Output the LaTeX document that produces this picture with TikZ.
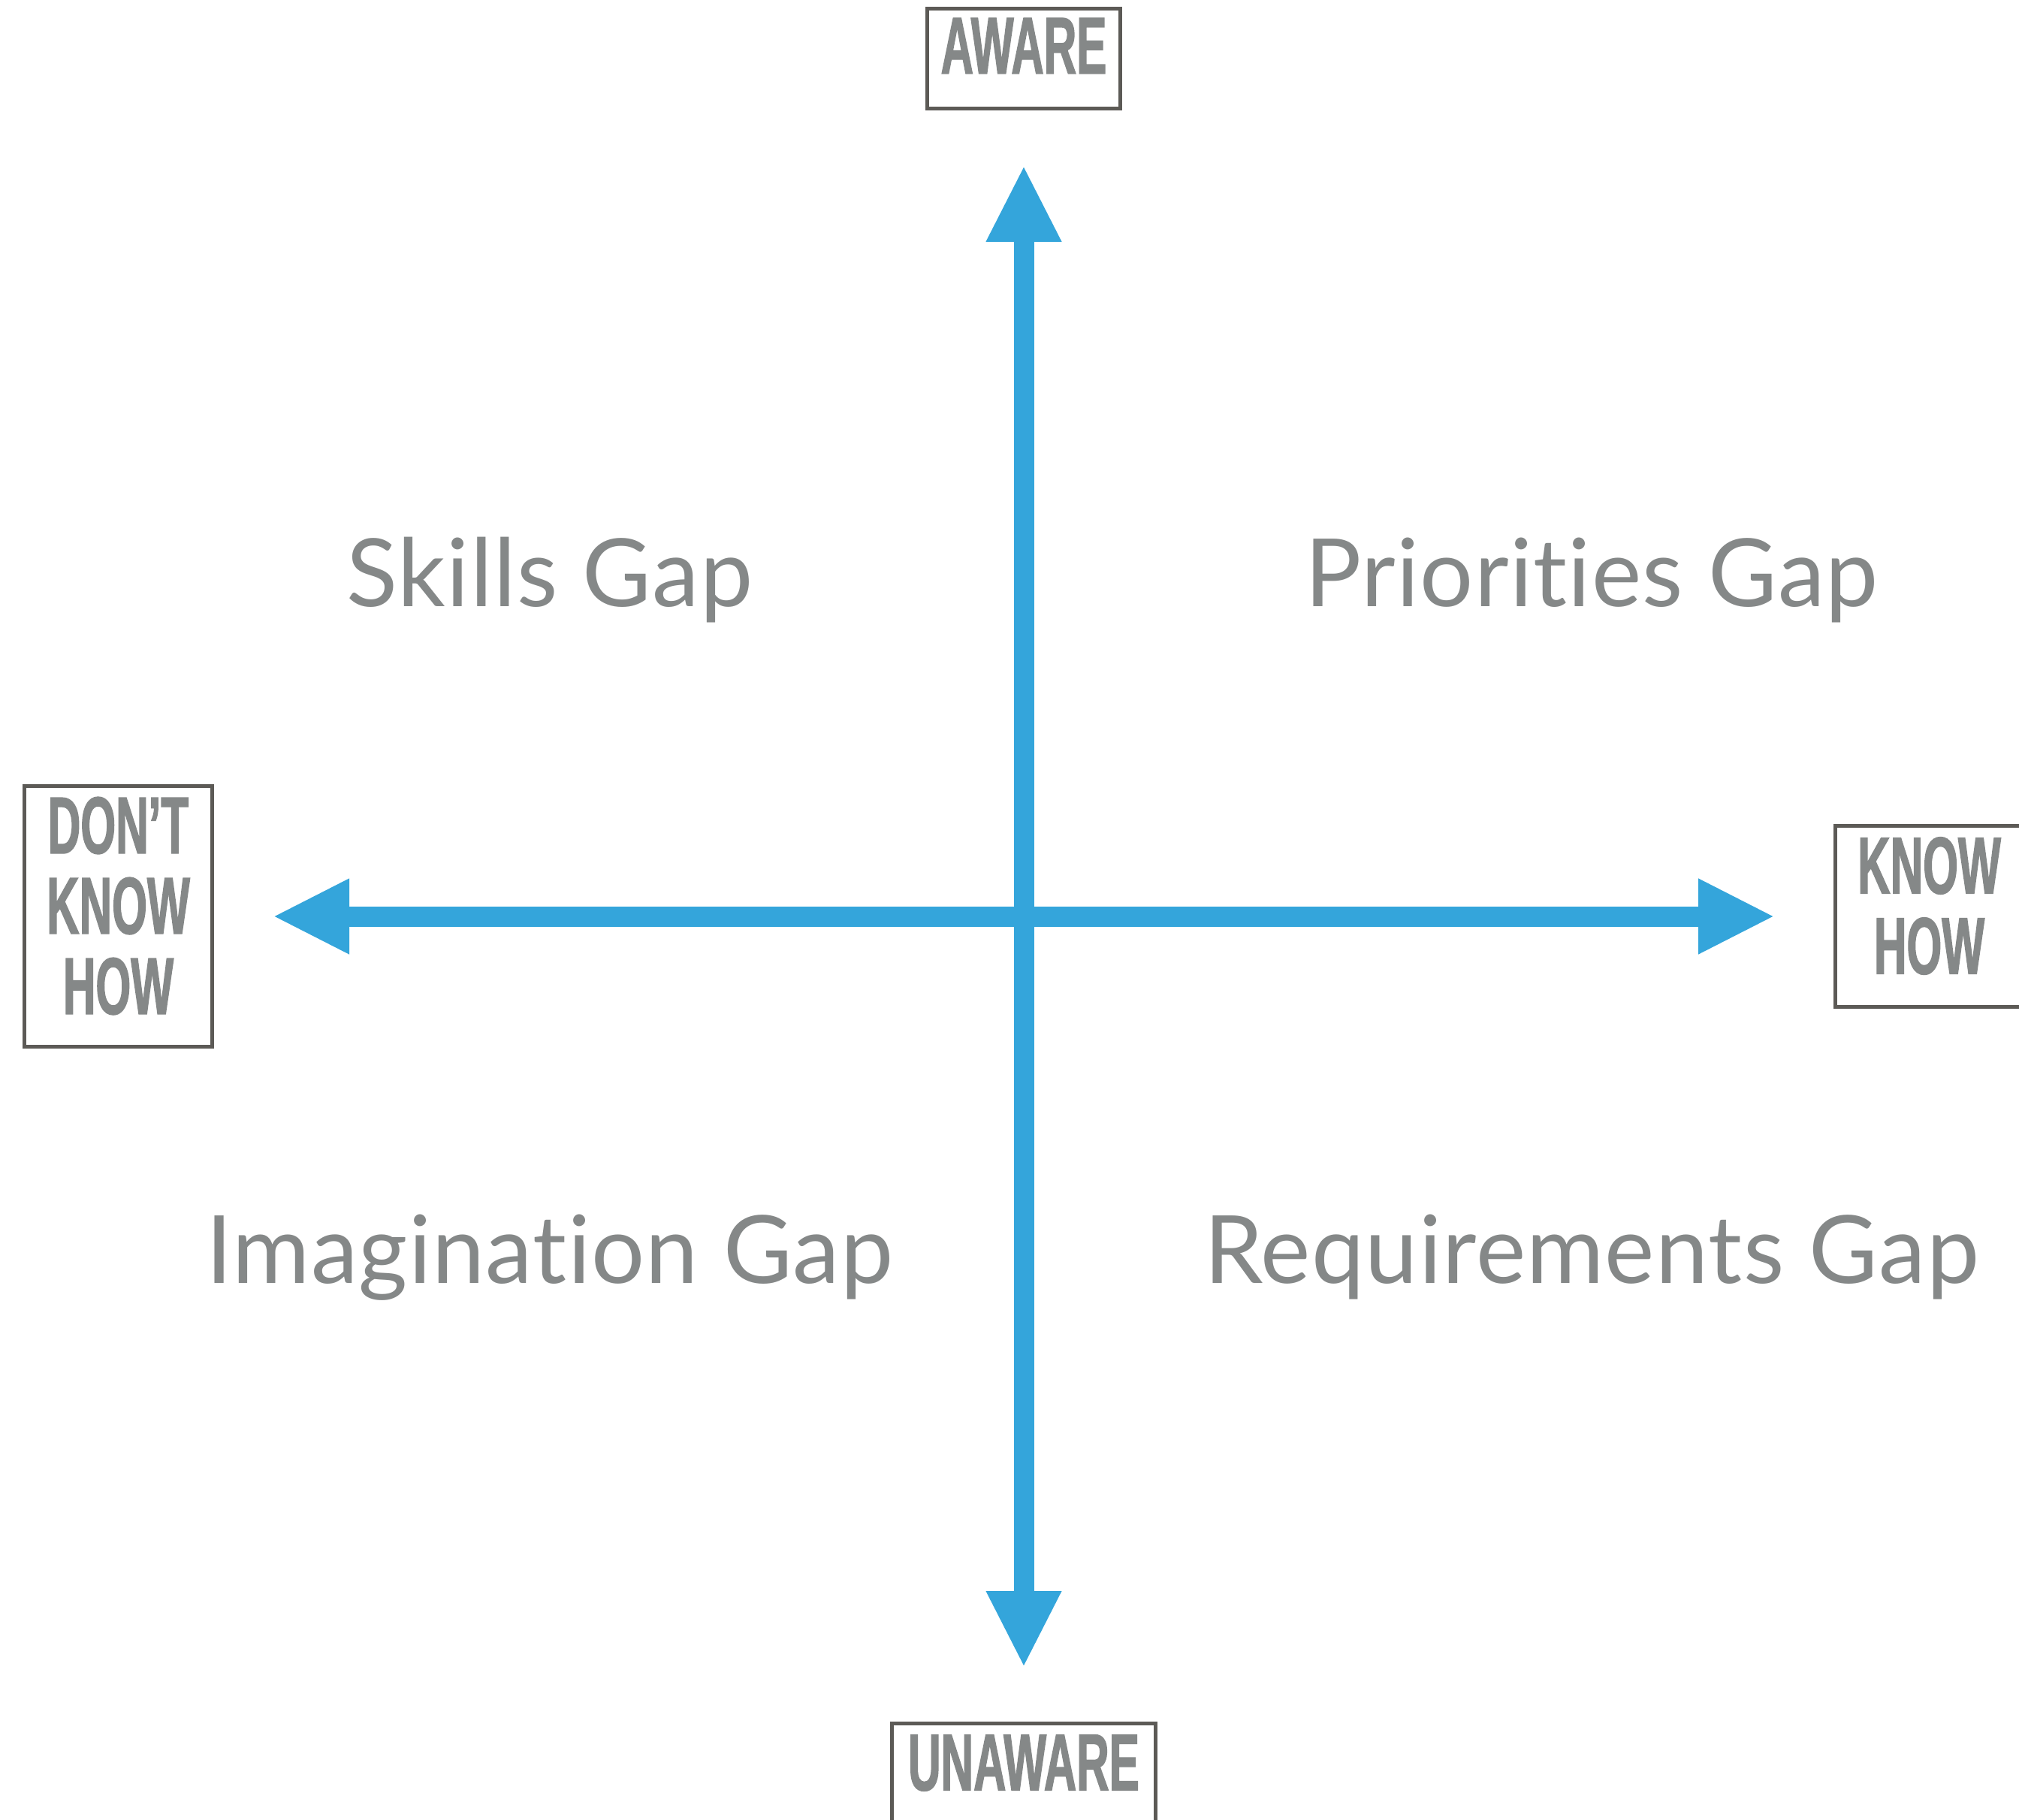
\documentclass[tikz,border=0pt]{standalone}
\usepackage{fontspec}
\usetikzlibrary{arrows.meta}
\setmainfont{Lato}[Ligatures=NoCommon, LetterSpace=1.0]
\newfontfamily\polefont[FakeStretch=0.56, FakeBold=1.2]{Liberation Sans}
\definecolor{axisblue}{HTML}{34A5DB}
\definecolor{labelgray}{HTML}{858888}
\definecolor{framegray}{HTML}{5C5A56}
\tikzset{
        >={Triangle[length=1.02cm,width=0.93cm]}, % big flat heads on the axes
        axis/.style={<->, line width=0.27cm, draw=axisblue},
        pole/.style={draw=framegray, line width=0.05cm, text=labelgray, inner sep=0pt,
                font=\polefont\bfseries\fontsize{30.6}{30.45}\selectfont},
        gap/.style={text=labelgray, anchor=base, inner sep=0pt,
                font=\fontsize{35.7}{42}\selectfont}
        }

\begin{document}
\begin{tikzpicture}
        \useasboundingbox (0,0) rectangle (26.88,-24.23);
        % the four ends of the axes
        \node[pole, minimum width=2.57cm, minimum height=1.33cm, text depth=0.34cm](aware) at (13.63,-0.78){AWARE};
        \node[pole, minimum width=3.51cm, minimum height=1.33cm, text depth=0.29cm](unaware) at (13.63,-23.61){UNAWARE};
        \node[pole, align=center, minimum width=2.50cm, minimum height=3.47cm, text depth=0.29cm](dontknow) at (1.575,-12.20){DON’T\\KNOW\\HOW};
        \node[pole, align=center, minimum width=2.50cm, minimum height=2.41cm, text depth=0.29cm](knowhow) at (25.685,-12.20){KNOW\\HOW};
        \draw[axis, shorten <=0.73cm, shorten >=0.72cm] (aware) -- (unaware);
        \draw[axis, shorten <=0.78cm, shorten >=0.78cm] (dontknow) -- (knowhow);
        % quadrants
        \node[gap](skills) at (7.32,-8.08){Skills Gap};
        \node[gap](priorities) at (21.19,-8.08){Priorities Gap};
        \node[gap](imagination) at (7.32,-17.08){Imagination Gap};
        \node[gap](requirements) at (21.19,-17.08){Requirements Gap};
\end{tikzpicture}
\end{document}
